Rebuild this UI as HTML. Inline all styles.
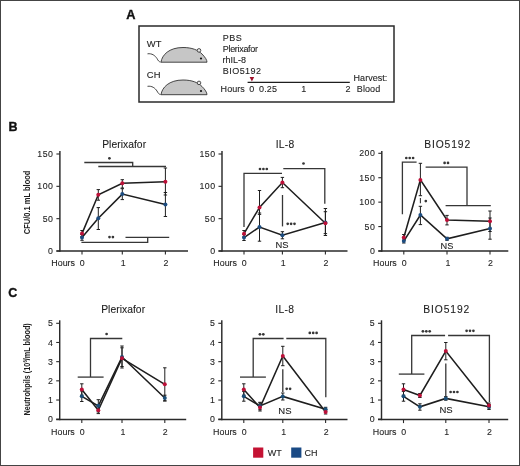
<!DOCTYPE html>
<html><head><meta charset="utf-8"><style>
html,body{margin:0;padding:0;background:#fff;}
body{width:520px;height:466px;overflow:hidden;font-family:"Liberation Sans", sans-serif;}
svg{display:block;will-change:transform;}
</style></head><body>
<svg width="520" height="466" viewBox="0 0 520 466" font-family='"Liberation Sans", sans-serif'>
<rect x="0" y="0" width="520" height="466" fill="#fff"/>
<rect x="0.5" y="0.5" width="519" height="465" fill="none" stroke="#444" stroke-width="1"/>
<text x="126.2" y="19.2" font-size="12.8" text-anchor="start" font-weight="bold" fill="#111" stroke="#111" stroke-width="0.35">A</text>
<text x="8.5" y="131.3" font-size="12.5" text-anchor="start" font-weight="bold" fill="#111" stroke="#111" stroke-width="0.35">B</text>
<text x="8.2" y="297.3" font-size="12.5" text-anchor="start" font-weight="bold" fill="#111" stroke="#111" stroke-width="0.35">C</text>
<rect x="139" y="26" width="255" height="76" fill="none" stroke="#2a2a2a" stroke-width="1.5"/>
<text x="146.7" y="46.9" font-size="9.4" text-anchor="start" font-weight="normal" fill="#1e1e1e"  letter-spacing="0.3" stroke="#1e1e1e" stroke-width="0.1">WT</text>
<text x="146.7" y="77.8" font-size="9.4" text-anchor="start" font-weight="normal" fill="#1e1e1e"  letter-spacing="0.3" stroke="#1e1e1e" stroke-width="0.1">CH</text>
<text x="222.8" y="40.5" font-size="9.0" text-anchor="start" font-weight="normal" fill="#1e1e1e"  letter-spacing="0.45" stroke="#1e1e1e" stroke-width="0.1">PBS</text>
<text x="222.8" y="51.6" font-size="9.0" text-anchor="start" font-weight="normal" fill="#1e1e1e"  letter-spacing="-0.32" stroke="#1e1e1e" stroke-width="0.1">Plerixafor</text>
<text x="222.6" y="62.6" font-size="9.0" text-anchor="start" font-weight="normal" fill="#1e1e1e"  stroke="#1e1e1e" stroke-width="0.1">rhIL-8</text>
<text x="222.8" y="74.0" font-size="9.0" text-anchor="start" font-weight="normal" fill="#1e1e1e"  letter-spacing="0.45" stroke="#1e1e1e" stroke-width="0.1">BIO5192</text>
<text x="220.6" y="91.9" font-size="9.0" text-anchor="start" font-weight="normal" fill="#1e1e1e"  letter-spacing="0.05" stroke="#1e1e1e" stroke-width="0.1">Hours</text>
<text x="249.2" y="91.9" font-size="9.0" text-anchor="start" font-weight="normal" fill="#1e1e1e"  stroke="#1e1e1e" stroke-width="0.1">0</text>
<text x="259.1" y="91.9" font-size="9.0" text-anchor="start" font-weight="normal" fill="#1e1e1e"  letter-spacing="0.1" stroke="#1e1e1e" stroke-width="0.1">0.25</text>
<text x="303.8" y="91.9" font-size="9.0" text-anchor="middle" font-weight="normal" fill="#1e1e1e"  stroke="#1e1e1e" stroke-width="0.1">1</text>
<text x="348.1" y="91.9" font-size="9.0" text-anchor="middle" font-weight="normal" fill="#1e1e1e"  stroke="#1e1e1e" stroke-width="0.1">2</text>
<text x="353.6" y="81.0" font-size="9.0" text-anchor="start" font-weight="normal" fill="#1e1e1e"  letter-spacing="0.02" stroke="#1e1e1e" stroke-width="0.1">Harvest:</text>
<text x="356.8" y="91.9" font-size="9.0" text-anchor="start" font-weight="normal" fill="#1e1e1e"  letter-spacing="0.08" stroke="#1e1e1e" stroke-width="0.1">Blood</text>
<line x1="247.6" y1="82.3" x2="349.8" y2="82.3" stroke="#1e1e1e" stroke-width="1.3"/>
<polygon points="249.6,77 254.2,77 251.9,81.4" fill="#a0102a"/>
<g transform="translate(0,0)">
<path d="M147.5,53.8 C152,53.2 155,55.5 157,58.5 C158,60.5 159,61.8 160.6,62.1" fill="none" stroke="#333" stroke-width="0.9"/>
<path d="M161,62.2 C162,55 169,47.5 183,47.5 C192,47.5 198,50 202,54 C205,57 207,60 207,62.2 Z" fill="#c6c6c6" stroke="#333" stroke-width="0.9"/>
<circle cx="199" cy="50.4" r="1.8" fill="#e8e8e8" stroke="#333" stroke-width="0.85"/>
<circle cx="201" cy="58.5" r="1.1" fill="#111"/>
</g>
<g transform="translate(0,32.5)">
<path d="M147.5,53.8 C152,53.2 155,55.5 157,58.5 C158,60.5 159,61.8 160.6,62.1" fill="none" stroke="#333" stroke-width="0.9"/>
<path d="M161,62.2 C162,55 169,47.5 183,47.5 C192,47.5 198,50 202,54 C205,57 207,60 207,62.2 Z" fill="#c6c6c6" stroke="#333" stroke-width="0.9"/>
<circle cx="199" cy="50.4" r="1.8" fill="#e8e8e8" stroke="#333" stroke-width="0.85"/>
<circle cx="201" cy="58.5" r="1.1" fill="#111"/>
</g>
<line x1="59.9" y1="151" x2="59.9" y2="251.7" stroke="#2a2a2a" stroke-width="1.45"/>
<line x1="56.4" y1="251" x2="188" y2="251" stroke="#2a2a2a" stroke-width="1.45"/>
<line x1="56.4" y1="251.0" x2="59.9" y2="251.0" stroke="#2a2a2a" stroke-width="1.1"/>
<text x="53.5" y="254.1" font-size="8.8" text-anchor="end" font-weight="normal" fill="#1e1e1e" letter-spacing="0.5" stroke="#1e1e1e" stroke-width="0.1">0</text>
<line x1="56.4" y1="218.665" x2="59.9" y2="218.665" stroke="#2a2a2a" stroke-width="1.1"/>
<text x="53.5" y="221.765" font-size="8.8" text-anchor="end" font-weight="normal" fill="#1e1e1e" letter-spacing="0.5" stroke="#1e1e1e" stroke-width="0.1">50</text>
<line x1="56.4" y1="186.32999999999998" x2="59.9" y2="186.32999999999998" stroke="#2a2a2a" stroke-width="1.1"/>
<text x="53.5" y="189.42999999999998" font-size="8.8" text-anchor="end" font-weight="normal" fill="#1e1e1e" letter-spacing="0.5" stroke="#1e1e1e" stroke-width="0.1">100</text>
<line x1="56.4" y1="153.995" x2="59.9" y2="153.995" stroke="#2a2a2a" stroke-width="1.1"/>
<text x="53.5" y="157.095" font-size="8.8" text-anchor="end" font-weight="normal" fill="#1e1e1e" letter-spacing="0.5" stroke="#1e1e1e" stroke-width="0.1">150</text>
<line x1="82" y1="251" x2="82" y2="254.6" stroke="#2a2a2a" stroke-width="1.1"/>
<text x="82.3" y="266" font-size="8.8" text-anchor="middle" font-weight="normal" fill="#1e1e1e"  stroke="#1e1e1e" stroke-width="0.1">0</text>
<line x1="122.3" y1="251" x2="122.3" y2="254.6" stroke="#2a2a2a" stroke-width="1.1"/>
<text x="123.2" y="266" font-size="8.8" text-anchor="middle" font-weight="normal" fill="#1e1e1e"  stroke="#1e1e1e" stroke-width="0.1">1</text>
<line x1="165.4" y1="251" x2="165.4" y2="254.6" stroke="#2a2a2a" stroke-width="1.1"/>
<text x="165.9" y="266" font-size="8.8" text-anchor="middle" font-weight="normal" fill="#1e1e1e"  stroke="#1e1e1e" stroke-width="0.1">2</text>
<text x="75.0" y="266" font-size="8.9" text-anchor="end" font-weight="normal" fill="#1e1e1e"  stroke="#1e1e1e" stroke-width="0.1">Hours</text>
<text x="124.125" y="147.5" font-size="10.3" text-anchor="middle" font-weight="normal" fill="#1e1e1e"  letter-spacing="0.05" stroke="#1e1e1e" stroke-width="0.1">Plerixafor</text>
<polyline points="82,233.6 98.3,194.7 122.3,183.3 165.4,181.7" fill="none" stroke="#1e1e1e" stroke-width="1.55" stroke-linejoin="miter"/>
<polyline points="82,237.4 98.3,218.3 122.3,194.1 165.4,204.6" fill="none" stroke="#1e1e1e" stroke-width="1.55" stroke-linejoin="miter"/>
<line x1="82" y1="230.5" x2="82" y2="236.7" stroke="#1e1e1e" stroke-width="1.0"/>
<line x1="80.3" y1="230.5" x2="83.7" y2="230.5" stroke="#1e1e1e" stroke-width="1.0"/>
<line x1="80.3" y1="236.7" x2="83.7" y2="236.7" stroke="#1e1e1e" stroke-width="1.0"/>
<line x1="98.3" y1="189.6" x2="98.3" y2="200.2" stroke="#1e1e1e" stroke-width="1.0"/>
<line x1="96.6" y1="189.6" x2="100.0" y2="189.6" stroke="#1e1e1e" stroke-width="1.0"/>
<line x1="96.6" y1="200.2" x2="100.0" y2="200.2" stroke="#1e1e1e" stroke-width="1.0"/>
<line x1="122.3" y1="179.7" x2="122.3" y2="188" stroke="#1e1e1e" stroke-width="1.0"/>
<line x1="120.6" y1="179.7" x2="124.0" y2="179.7" stroke="#1e1e1e" stroke-width="1.0"/>
<line x1="120.6" y1="188" x2="124.0" y2="188" stroke="#1e1e1e" stroke-width="1.0"/>
<line x1="165.4" y1="168" x2="165.4" y2="195" stroke="#1e1e1e" stroke-width="1.0"/>
<line x1="163.70000000000002" y1="168" x2="167.1" y2="168" stroke="#1e1e1e" stroke-width="1.0"/>
<line x1="163.70000000000002" y1="195" x2="167.1" y2="195" stroke="#1e1e1e" stroke-width="1.0"/>
<line x1="82" y1="234.5" x2="82" y2="240.3" stroke="#1e1e1e" stroke-width="1.0"/>
<line x1="80.3" y1="234.5" x2="83.7" y2="234.5" stroke="#1e1e1e" stroke-width="1.0"/>
<line x1="80.3" y1="240.3" x2="83.7" y2="240.3" stroke="#1e1e1e" stroke-width="1.0"/>
<line x1="98.3" y1="207.6" x2="98.3" y2="229.5" stroke="#1e1e1e" stroke-width="1.0"/>
<line x1="96.6" y1="207.6" x2="100.0" y2="207.6" stroke="#1e1e1e" stroke-width="1.0"/>
<line x1="96.6" y1="229.5" x2="100.0" y2="229.5" stroke="#1e1e1e" stroke-width="1.0"/>
<line x1="122.3" y1="188.7" x2="122.3" y2="199.6" stroke="#1e1e1e" stroke-width="1.0"/>
<line x1="120.6" y1="188.7" x2="124.0" y2="188.7" stroke="#1e1e1e" stroke-width="1.0"/>
<line x1="120.6" y1="199.6" x2="124.0" y2="199.6" stroke="#1e1e1e" stroke-width="1.0"/>
<line x1="165.4" y1="192.5" x2="165.4" y2="216.5" stroke="#1e1e1e" stroke-width="1.0"/>
<line x1="163.70000000000002" y1="192.5" x2="167.1" y2="192.5" stroke="#1e1e1e" stroke-width="1.0"/>
<line x1="163.70000000000002" y1="216.5" x2="167.1" y2="216.5" stroke="#1e1e1e" stroke-width="1.0"/>
<circle cx="82" cy="237.4" r="2.0" fill="#1c4c80"/>
<circle cx="98.3" cy="218.3" r="2.0" fill="#1c4c80"/>
<circle cx="122.3" cy="194.1" r="2.0" fill="#1c4c80"/>
<circle cx="165.4" cy="204.6" r="2.0" fill="#1c4c80"/>
<circle cx="82" cy="233.6" r="2.0" fill="#bc1038"/>
<circle cx="98.3" cy="194.7" r="2.0" fill="#bc1038"/>
<circle cx="122.3" cy="183.3" r="2.0" fill="#bc1038"/>
<circle cx="165.4" cy="181.7" r="2.0" fill="#bc1038"/>
<line x1="222" y1="151" x2="222" y2="251.7" stroke="#2a2a2a" stroke-width="1.45"/>
<line x1="218.5" y1="251" x2="347.5" y2="251" stroke="#2a2a2a" stroke-width="1.45"/>
<line x1="218.5" y1="251.0" x2="222" y2="251.0" stroke="#2a2a2a" stroke-width="1.1"/>
<text x="215.6" y="254.1" font-size="8.8" text-anchor="end" font-weight="normal" fill="#1e1e1e" letter-spacing="0.5" stroke="#1e1e1e" stroke-width="0.1">0</text>
<line x1="218.5" y1="218.665" x2="222" y2="218.665" stroke="#2a2a2a" stroke-width="1.1"/>
<text x="215.6" y="221.765" font-size="8.8" text-anchor="end" font-weight="normal" fill="#1e1e1e" letter-spacing="0.5" stroke="#1e1e1e" stroke-width="0.1">50</text>
<line x1="218.5" y1="186.32999999999998" x2="222" y2="186.32999999999998" stroke="#2a2a2a" stroke-width="1.1"/>
<text x="215.6" y="189.42999999999998" font-size="8.8" text-anchor="end" font-weight="normal" fill="#1e1e1e" letter-spacing="0.5" stroke="#1e1e1e" stroke-width="0.1">100</text>
<line x1="218.5" y1="153.995" x2="222" y2="153.995" stroke="#2a2a2a" stroke-width="1.1"/>
<text x="215.6" y="157.095" font-size="8.8" text-anchor="end" font-weight="normal" fill="#1e1e1e" letter-spacing="0.5" stroke="#1e1e1e" stroke-width="0.1">150</text>
<line x1="244" y1="251" x2="244" y2="254.6" stroke="#2a2a2a" stroke-width="1.1"/>
<text x="244.3" y="266" font-size="8.8" text-anchor="middle" font-weight="normal" fill="#1e1e1e"  stroke="#1e1e1e" stroke-width="0.1">0</text>
<line x1="282.4" y1="251" x2="282.4" y2="254.6" stroke="#2a2a2a" stroke-width="1.1"/>
<text x="283.29999999999995" y="266" font-size="8.8" text-anchor="middle" font-weight="normal" fill="#1e1e1e"  stroke="#1e1e1e" stroke-width="0.1">1</text>
<line x1="325.4" y1="251" x2="325.4" y2="254.6" stroke="#2a2a2a" stroke-width="1.1"/>
<text x="325.9" y="266" font-size="8.8" text-anchor="middle" font-weight="normal" fill="#1e1e1e"  stroke="#1e1e1e" stroke-width="0.1">2</text>
<text x="237.0" y="266" font-size="8.9" text-anchor="end" font-weight="normal" fill="#1e1e1e"  stroke="#1e1e1e" stroke-width="0.1">Hours</text>
<text x="285.15" y="147.5" font-size="10.3" text-anchor="middle" font-weight="normal" fill="#1e1e1e"  letter-spacing="0.3" stroke="#1e1e1e" stroke-width="0.1">IL-8</text>
<polyline points="244,233.7 259.5,207.4 282.4,182.5 325.4,223.3" fill="none" stroke="#1e1e1e" stroke-width="1.55" stroke-linejoin="miter"/>
<polyline points="244,237.6 259.5,227.0 282.4,235.2 325.4,222.6" fill="none" stroke="#1e1e1e" stroke-width="1.55" stroke-linejoin="miter"/>
<line x1="244" y1="230.5" x2="244" y2="237" stroke="#1e1e1e" stroke-width="1.0"/>
<line x1="242.3" y1="230.5" x2="245.7" y2="230.5" stroke="#1e1e1e" stroke-width="1.0"/>
<line x1="242.3" y1="237" x2="245.7" y2="237" stroke="#1e1e1e" stroke-width="1.0"/>
<line x1="259.5" y1="190.5" x2="259.5" y2="214.4" stroke="#1e1e1e" stroke-width="1.0"/>
<line x1="257.8" y1="190.5" x2="261.2" y2="190.5" stroke="#1e1e1e" stroke-width="1.0"/>
<line x1="257.8" y1="214.4" x2="261.2" y2="214.4" stroke="#1e1e1e" stroke-width="1.0"/>
<line x1="282.4" y1="177.4" x2="282.4" y2="187.7" stroke="#1e1e1e" stroke-width="1.0"/>
<line x1="280.7" y1="177.4" x2="284.09999999999997" y2="177.4" stroke="#1e1e1e" stroke-width="1.0"/>
<line x1="280.7" y1="187.7" x2="284.09999999999997" y2="187.7" stroke="#1e1e1e" stroke-width="1.0"/>
<line x1="325.4" y1="208.5" x2="325.4" y2="233.6" stroke="#1e1e1e" stroke-width="1.0"/>
<line x1="323.7" y1="208.5" x2="327.09999999999997" y2="208.5" stroke="#1e1e1e" stroke-width="1.0"/>
<line x1="323.7" y1="233.6" x2="327.09999999999997" y2="233.6" stroke="#1e1e1e" stroke-width="1.0"/>
<line x1="244" y1="234.5" x2="244" y2="240.5" stroke="#1e1e1e" stroke-width="1.0"/>
<line x1="242.3" y1="234.5" x2="245.7" y2="234.5" stroke="#1e1e1e" stroke-width="1.0"/>
<line x1="242.3" y1="240.5" x2="245.7" y2="240.5" stroke="#1e1e1e" stroke-width="1.0"/>
<line x1="259.5" y1="213.0" x2="259.5" y2="241.2" stroke="#1e1e1e" stroke-width="1.0"/>
<line x1="257.8" y1="213.0" x2="261.2" y2="213.0" stroke="#1e1e1e" stroke-width="1.0"/>
<line x1="257.8" y1="241.2" x2="261.2" y2="241.2" stroke="#1e1e1e" stroke-width="1.0"/>
<line x1="282.4" y1="231.7" x2="282.4" y2="238.8" stroke="#1e1e1e" stroke-width="1.0"/>
<line x1="280.7" y1="231.7" x2="284.09999999999997" y2="231.7" stroke="#1e1e1e" stroke-width="1.0"/>
<line x1="280.7" y1="238.8" x2="284.09999999999997" y2="238.8" stroke="#1e1e1e" stroke-width="1.0"/>
<line x1="325.4" y1="211.7" x2="325.4" y2="235.5" stroke="#1e1e1e" stroke-width="1.0"/>
<line x1="323.7" y1="211.7" x2="327.09999999999997" y2="211.7" stroke="#1e1e1e" stroke-width="1.0"/>
<line x1="323.7" y1="235.5" x2="327.09999999999997" y2="235.5" stroke="#1e1e1e" stroke-width="1.0"/>
<circle cx="244" cy="237.6" r="2.0" fill="#1c4c80"/>
<circle cx="259.5" cy="227.0" r="2.0" fill="#1c4c80"/>
<circle cx="282.4" cy="235.2" r="2.0" fill="#1c4c80"/>
<circle cx="325.4" cy="222.6" r="2.0" fill="#1c4c80"/>
<circle cx="244" cy="233.7" r="2.0" fill="#bc1038"/>
<circle cx="259.5" cy="207.4" r="2.0" fill="#bc1038"/>
<circle cx="282.4" cy="182.5" r="2.0" fill="#bc1038"/>
<circle cx="325.4" cy="223.3" r="2.0" fill="#bc1038"/>
<line x1="381.8" y1="151" x2="381.8" y2="251.7" stroke="#2a2a2a" stroke-width="1.45"/>
<line x1="378.3" y1="251" x2="508.3" y2="251" stroke="#2a2a2a" stroke-width="1.45"/>
<line x1="378.3" y1="251.0" x2="381.8" y2="251.0" stroke="#2a2a2a" stroke-width="1.1"/>
<text x="375.40000000000003" y="254.1" font-size="8.8" text-anchor="end" font-weight="normal" fill="#1e1e1e" letter-spacing="0.5" stroke="#1e1e1e" stroke-width="0.1">0</text>
<line x1="378.3" y1="226.575" x2="381.8" y2="226.575" stroke="#2a2a2a" stroke-width="1.1"/>
<text x="375.40000000000003" y="229.67499999999998" font-size="8.8" text-anchor="end" font-weight="normal" fill="#1e1e1e" letter-spacing="0.5" stroke="#1e1e1e" stroke-width="0.1">50</text>
<line x1="378.3" y1="202.15" x2="381.8" y2="202.15" stroke="#2a2a2a" stroke-width="1.1"/>
<text x="375.40000000000003" y="205.25" font-size="8.8" text-anchor="end" font-weight="normal" fill="#1e1e1e" letter-spacing="0.5" stroke="#1e1e1e" stroke-width="0.1">100</text>
<line x1="378.3" y1="177.72500000000002" x2="381.8" y2="177.72500000000002" stroke="#2a2a2a" stroke-width="1.1"/>
<text x="375.40000000000003" y="180.82500000000002" font-size="8.8" text-anchor="end" font-weight="normal" fill="#1e1e1e" letter-spacing="0.5" stroke="#1e1e1e" stroke-width="0.1">150</text>
<line x1="378.3" y1="153.3" x2="381.8" y2="153.3" stroke="#2a2a2a" stroke-width="1.1"/>
<text x="375.40000000000003" y="156.4" font-size="8.8" text-anchor="end" font-weight="normal" fill="#1e1e1e" letter-spacing="0.5" stroke="#1e1e1e" stroke-width="0.1">200</text>
<line x1="403.8" y1="251" x2="403.8" y2="254.6" stroke="#2a2a2a" stroke-width="1.1"/>
<text x="404.1" y="266" font-size="8.8" text-anchor="middle" font-weight="normal" fill="#1e1e1e"  stroke="#1e1e1e" stroke-width="0.1">0</text>
<line x1="447" y1="251" x2="447" y2="254.6" stroke="#2a2a2a" stroke-width="1.1"/>
<text x="447.9" y="266" font-size="8.8" text-anchor="middle" font-weight="normal" fill="#1e1e1e"  stroke="#1e1e1e" stroke-width="0.1">1</text>
<line x1="490" y1="251" x2="490" y2="254.6" stroke="#2a2a2a" stroke-width="1.1"/>
<text x="490.5" y="266" font-size="8.8" text-anchor="middle" font-weight="normal" fill="#1e1e1e"  stroke="#1e1e1e" stroke-width="0.1">2</text>
<text x="396.8" y="266" font-size="8.9" text-anchor="end" font-weight="normal" fill="#1e1e1e"  stroke="#1e1e1e" stroke-width="0.1">Hours</text>
<text x="447.65" y="147.5" font-size="10.3" text-anchor="middle" font-weight="normal" fill="#1e1e1e"  letter-spacing="0.9" stroke="#1e1e1e" stroke-width="0.1">BIO5192</text>
<polyline points="403.8,237.5 420.4,179.9 447,220 490,221.2" fill="none" stroke="#1e1e1e" stroke-width="1.55" stroke-linejoin="miter"/>
<polyline points="403.8,241.1 420.4,215 447,238.8 490,228.5" fill="none" stroke="#1e1e1e" stroke-width="1.55" stroke-linejoin="miter"/>
<line x1="403.8" y1="234.5" x2="403.8" y2="240.5" stroke="#1e1e1e" stroke-width="1.0"/>
<line x1="402.1" y1="234.5" x2="405.5" y2="234.5" stroke="#1e1e1e" stroke-width="1.0"/>
<line x1="402.1" y1="240.5" x2="405.5" y2="240.5" stroke="#1e1e1e" stroke-width="1.0"/>
<line x1="420.4" y1="163.3" x2="420.4" y2="195.7" stroke="#1e1e1e" stroke-width="1.0"/>
<line x1="418.7" y1="163.3" x2="422.09999999999997" y2="163.3" stroke="#1e1e1e" stroke-width="1.0"/>
<line x1="418.7" y1="195.7" x2="422.09999999999997" y2="195.7" stroke="#1e1e1e" stroke-width="1.0"/>
<line x1="447" y1="215.4" x2="447" y2="224.9" stroke="#1e1e1e" stroke-width="1.0"/>
<line x1="445.3" y1="215.4" x2="448.7" y2="215.4" stroke="#1e1e1e" stroke-width="1.0"/>
<line x1="445.3" y1="224.9" x2="448.7" y2="224.9" stroke="#1e1e1e" stroke-width="1.0"/>
<line x1="490" y1="211" x2="490" y2="231.5" stroke="#1e1e1e" stroke-width="1.0"/>
<line x1="488.3" y1="211" x2="491.7" y2="211" stroke="#1e1e1e" stroke-width="1.0"/>
<line x1="488.3" y1="231.5" x2="491.7" y2="231.5" stroke="#1e1e1e" stroke-width="1.0"/>
<line x1="403.8" y1="239" x2="403.8" y2="243" stroke="#1e1e1e" stroke-width="1.0"/>
<line x1="402.1" y1="239" x2="405.5" y2="239" stroke="#1e1e1e" stroke-width="1.0"/>
<line x1="402.1" y1="243" x2="405.5" y2="243" stroke="#1e1e1e" stroke-width="1.0"/>
<line x1="420.4" y1="206.3" x2="420.4" y2="224.6" stroke="#1e1e1e" stroke-width="1.0"/>
<line x1="418.7" y1="206.3" x2="422.09999999999997" y2="206.3" stroke="#1e1e1e" stroke-width="1.0"/>
<line x1="418.7" y1="224.6" x2="422.09999999999997" y2="224.6" stroke="#1e1e1e" stroke-width="1.0"/>
<line x1="447" y1="237.3" x2="447" y2="240.3" stroke="#1e1e1e" stroke-width="1.0"/>
<line x1="445.3" y1="237.3" x2="448.7" y2="237.3" stroke="#1e1e1e" stroke-width="1.0"/>
<line x1="445.3" y1="240.3" x2="448.7" y2="240.3" stroke="#1e1e1e" stroke-width="1.0"/>
<line x1="490" y1="218" x2="490" y2="239.2" stroke="#1e1e1e" stroke-width="1.0"/>
<line x1="488.3" y1="218" x2="491.7" y2="218" stroke="#1e1e1e" stroke-width="1.0"/>
<line x1="488.3" y1="239.2" x2="491.7" y2="239.2" stroke="#1e1e1e" stroke-width="1.0"/>
<circle cx="403.8" cy="241.1" r="2.0" fill="#1c4c80"/>
<circle cx="420.4" cy="215" r="2.0" fill="#1c4c80"/>
<circle cx="447" cy="238.8" r="2.0" fill="#1c4c80"/>
<circle cx="490" cy="228.5" r="2.0" fill="#1c4c80"/>
<circle cx="403.8" cy="237.5" r="2.0" fill="#bc1038"/>
<circle cx="420.4" cy="179.9" r="2.0" fill="#bc1038"/>
<circle cx="447" cy="220" r="2.0" fill="#bc1038"/>
<circle cx="490" cy="221.2" r="2.0" fill="#bc1038"/>
<polyline points="84.3,162.5 132.7,162.5 132.7,166.5" fill="none" stroke="#363636" stroke-width="1.3" stroke-linejoin="miter"/>
<line x1="98.3" y1="166.5" x2="166" y2="166.5" stroke="#363636" stroke-width="1.3"/>
<circle cx="109.40" cy="158.3" r="1.35" fill="#363636"/>
<polyline points="81.4,242.3 147.7,242.3 147.7,237.4" fill="none" stroke="#363636" stroke-width="1.3" stroke-linejoin="miter"/>
<line x1="125.5" y1="237.4" x2="169.2" y2="237.4" stroke="#363636" stroke-width="1.3"/>
<circle cx="109.50" cy="237.1" r="1.35" fill="#363636"/>
<circle cx="112.90" cy="237.1" r="1.35" fill="#363636"/>
<polyline points="244,227 244,173.3 282,173.3" fill="none" stroke="#363636" stroke-width="1.3" stroke-linejoin="miter"/>
<circle cx="260.00" cy="169" r="1.35" fill="#363636"/>
<circle cx="263.40" cy="169" r="1.35" fill="#363636"/>
<circle cx="266.80" cy="169" r="1.35" fill="#363636"/>
<polyline points="283.3,168.6 324.8,168.6 324.8,203.8" fill="none" stroke="#363636" stroke-width="1.3" stroke-linejoin="miter"/>
<circle cx="303.50" cy="163.5" r="1.35" fill="#363636"/>
<line x1="282.5" y1="195" x2="282.5" y2="226.4" stroke="#363636" stroke-width="1.3"/>
<circle cx="287.70" cy="223.8" r="1.35" fill="#363636"/>
<circle cx="291.10" cy="223.8" r="1.35" fill="#363636"/>
<circle cx="294.50" cy="223.8" r="1.35" fill="#363636"/>
<text x="282" y="247.7" font-size="9.4" text-anchor="middle" font-weight="normal" fill="#1e1e1e"  stroke="#1e1e1e" stroke-width="0.1">NS</text>
<polyline points="402.4,214.3 402.4,162.2 416.6,162.2" fill="none" stroke="#363636" stroke-width="1.3" stroke-linejoin="miter"/>
<circle cx="406.30" cy="158" r="1.35" fill="#363636"/>
<circle cx="409.70" cy="158" r="1.35" fill="#363636"/>
<circle cx="413.10" cy="158" r="1.35" fill="#363636"/>
<polyline points="425.6,167.1 467,167.1 467,205.6" fill="none" stroke="#363636" stroke-width="1.3" stroke-linejoin="miter"/>
<line x1="445.6" y1="205.6" x2="490.8" y2="205.6" stroke="#363636" stroke-width="1.3"/>
<circle cx="444.60" cy="162.9" r="1.35" fill="#363636"/>
<circle cx="448.00" cy="162.9" r="1.35" fill="#363636"/>
<circle cx="425.80" cy="201.1" r="1.35" fill="#363636"/>
<line x1="420.4" y1="198" x2="420.4" y2="203.3" stroke="#363636" stroke-width="1.1"/>
<text x="447" y="248.9" font-size="9.2" text-anchor="middle" font-weight="normal" fill="#1e1e1e"  stroke="#1e1e1e" stroke-width="0.1">NS</text>
<line x1="59.7" y1="320.3" x2="59.7" y2="420.2" stroke="#2a2a2a" stroke-width="1.45"/>
<line x1="56.2" y1="419.5" x2="186.2" y2="419.5" stroke="#2a2a2a" stroke-width="1.45"/>
<line x1="56.2" y1="419.2" x2="59.7" y2="419.2" stroke="#2a2a2a" stroke-width="1.1"/>
<text x="53.300000000000004" y="422.3" font-size="8.8" text-anchor="end" font-weight="normal" fill="#1e1e1e" letter-spacing="0.5" stroke="#1e1e1e" stroke-width="0.1">0</text>
<line x1="56.2" y1="400.02" x2="59.7" y2="400.02" stroke="#2a2a2a" stroke-width="1.1"/>
<text x="53.300000000000004" y="403.12" font-size="8.8" text-anchor="end" font-weight="normal" fill="#1e1e1e" letter-spacing="0.5" stroke="#1e1e1e" stroke-width="0.1">1</text>
<line x1="56.2" y1="380.84" x2="59.7" y2="380.84" stroke="#2a2a2a" stroke-width="1.1"/>
<text x="53.300000000000004" y="383.94" font-size="8.8" text-anchor="end" font-weight="normal" fill="#1e1e1e" letter-spacing="0.5" stroke="#1e1e1e" stroke-width="0.1">2</text>
<line x1="56.2" y1="361.65999999999997" x2="59.7" y2="361.65999999999997" stroke="#2a2a2a" stroke-width="1.1"/>
<text x="53.300000000000004" y="364.76" font-size="8.8" text-anchor="end" font-weight="normal" fill="#1e1e1e" letter-spacing="0.5" stroke="#1e1e1e" stroke-width="0.1">3</text>
<line x1="56.2" y1="342.48" x2="59.7" y2="342.48" stroke="#2a2a2a" stroke-width="1.1"/>
<text x="53.300000000000004" y="345.58000000000004" font-size="8.8" text-anchor="end" font-weight="normal" fill="#1e1e1e" letter-spacing="0.5" stroke="#1e1e1e" stroke-width="0.1">4</text>
<line x1="56.2" y1="323.29999999999995" x2="59.7" y2="323.29999999999995" stroke="#2a2a2a" stroke-width="1.1"/>
<text x="53.300000000000004" y="326.4" font-size="8.8" text-anchor="end" font-weight="normal" fill="#1e1e1e" letter-spacing="0.5" stroke="#1e1e1e" stroke-width="0.1">5</text>
<line x1="81.8" y1="419.5" x2="81.8" y2="423.1" stroke="#2a2a2a" stroke-width="1.1"/>
<text x="82.1" y="435" font-size="8.8" text-anchor="middle" font-weight="normal" fill="#1e1e1e"  stroke="#1e1e1e" stroke-width="0.1">0</text>
<line x1="122" y1="419.5" x2="122" y2="423.1" stroke="#2a2a2a" stroke-width="1.1"/>
<text x="122.9" y="435" font-size="8.8" text-anchor="middle" font-weight="normal" fill="#1e1e1e"  stroke="#1e1e1e" stroke-width="0.1">1</text>
<line x1="164.8" y1="419.5" x2="164.8" y2="423.1" stroke="#2a2a2a" stroke-width="1.1"/>
<text x="165.3" y="435" font-size="8.8" text-anchor="middle" font-weight="normal" fill="#1e1e1e"  stroke="#1e1e1e" stroke-width="0.1">2</text>
<text x="74.8" y="435" font-size="8.9" text-anchor="end" font-weight="normal" fill="#1e1e1e"  stroke="#1e1e1e" stroke-width="0.1">Hours</text>
<text x="123.125" y="313.4" font-size="10.3" text-anchor="middle" font-weight="normal" fill="#1e1e1e"  letter-spacing="0.05" stroke="#1e1e1e" stroke-width="0.1">Plerixafor</text>
<polyline points="81.8,389.5 98.3,410.3 122,358.3 164.8,384.3" fill="none" stroke="#1e1e1e" stroke-width="1.55" stroke-linejoin="miter"/>
<polyline points="81.8,396.3 98.3,405.8 122,357 164.8,398" fill="none" stroke="#1e1e1e" stroke-width="1.55" stroke-linejoin="miter"/>
<line x1="81.8" y1="383.8" x2="81.8" y2="395.2" stroke="#1e1e1e" stroke-width="1.0"/>
<line x1="80.1" y1="383.8" x2="83.5" y2="383.8" stroke="#1e1e1e" stroke-width="1.0"/>
<line x1="80.1" y1="395.2" x2="83.5" y2="395.2" stroke="#1e1e1e" stroke-width="1.0"/>
<line x1="98.3" y1="406.5" x2="98.3" y2="413.6" stroke="#1e1e1e" stroke-width="1.0"/>
<line x1="96.6" y1="406.5" x2="100.0" y2="406.5" stroke="#1e1e1e" stroke-width="1.0"/>
<line x1="96.6" y1="413.6" x2="100.0" y2="413.6" stroke="#1e1e1e" stroke-width="1.0"/>
<line x1="122" y1="346" x2="122" y2="368" stroke="#1e1e1e" stroke-width="1.0"/>
<line x1="120.3" y1="346" x2="123.7" y2="346" stroke="#1e1e1e" stroke-width="1.0"/>
<line x1="120.3" y1="368" x2="123.7" y2="368" stroke="#1e1e1e" stroke-width="1.0"/>
<line x1="164.8" y1="367.8" x2="164.8" y2="400.8" stroke="#1e1e1e" stroke-width="1.0"/>
<line x1="163.10000000000002" y1="367.8" x2="166.5" y2="367.8" stroke="#1e1e1e" stroke-width="1.0"/>
<line x1="163.10000000000002" y1="400.8" x2="166.5" y2="400.8" stroke="#1e1e1e" stroke-width="1.0"/>
<line x1="81.8" y1="391" x2="81.8" y2="401.5" stroke="#1e1e1e" stroke-width="1.0"/>
<line x1="80.1" y1="391" x2="83.5" y2="391" stroke="#1e1e1e" stroke-width="1.0"/>
<line x1="80.1" y1="401.5" x2="83.5" y2="401.5" stroke="#1e1e1e" stroke-width="1.0"/>
<line x1="98.3" y1="399.7" x2="98.3" y2="411.9" stroke="#1e1e1e" stroke-width="1.0"/>
<line x1="96.6" y1="399.7" x2="100.0" y2="399.7" stroke="#1e1e1e" stroke-width="1.0"/>
<line x1="96.6" y1="411.9" x2="100.0" y2="411.9" stroke="#1e1e1e" stroke-width="1.0"/>
<line x1="122" y1="347.8" x2="122" y2="366.5" stroke="#1e1e1e" stroke-width="1.0"/>
<line x1="120.3" y1="347.8" x2="123.7" y2="347.8" stroke="#1e1e1e" stroke-width="1.0"/>
<line x1="120.3" y1="366.5" x2="123.7" y2="366.5" stroke="#1e1e1e" stroke-width="1.0"/>
<line x1="164.8" y1="395.2" x2="164.8" y2="401" stroke="#1e1e1e" stroke-width="1.0"/>
<line x1="163.10000000000002" y1="395.2" x2="166.5" y2="395.2" stroke="#1e1e1e" stroke-width="1.0"/>
<line x1="163.10000000000002" y1="401" x2="166.5" y2="401" stroke="#1e1e1e" stroke-width="1.0"/>
<circle cx="81.8" cy="396.3" r="2.0" fill="#1c4f78"/>
<circle cx="98.3" cy="405.8" r="2.0" fill="#1c4f78"/>
<circle cx="122" cy="357" r="2.0" fill="#1c4f78"/>
<circle cx="164.8" cy="398" r="2.0" fill="#1c4f78"/>
<circle cx="81.8" cy="389.5" r="2.0" fill="#bc1038"/>
<circle cx="98.3" cy="410.3" r="2.0" fill="#bc1038"/>
<circle cx="122" cy="358.3" r="2.0" fill="#bc1038"/>
<circle cx="164.8" cy="384.3" r="2.0" fill="#bc1038"/>
<line x1="221.8" y1="320.3" x2="221.8" y2="420.2" stroke="#2a2a2a" stroke-width="1.45"/>
<line x1="218.3" y1="419.5" x2="347.5" y2="419.5" stroke="#2a2a2a" stroke-width="1.45"/>
<line x1="218.3" y1="419.2" x2="221.8" y2="419.2" stroke="#2a2a2a" stroke-width="1.1"/>
<text x="215.4" y="422.3" font-size="8.8" text-anchor="end" font-weight="normal" fill="#1e1e1e" letter-spacing="0.5" stroke="#1e1e1e" stroke-width="0.1">0</text>
<line x1="218.3" y1="400.02" x2="221.8" y2="400.02" stroke="#2a2a2a" stroke-width="1.1"/>
<text x="215.4" y="403.12" font-size="8.8" text-anchor="end" font-weight="normal" fill="#1e1e1e" letter-spacing="0.5" stroke="#1e1e1e" stroke-width="0.1">1</text>
<line x1="218.3" y1="380.84" x2="221.8" y2="380.84" stroke="#2a2a2a" stroke-width="1.1"/>
<text x="215.4" y="383.94" font-size="8.8" text-anchor="end" font-weight="normal" fill="#1e1e1e" letter-spacing="0.5" stroke="#1e1e1e" stroke-width="0.1">2</text>
<line x1="218.3" y1="361.65999999999997" x2="221.8" y2="361.65999999999997" stroke="#2a2a2a" stroke-width="1.1"/>
<text x="215.4" y="364.76" font-size="8.8" text-anchor="end" font-weight="normal" fill="#1e1e1e" letter-spacing="0.5" stroke="#1e1e1e" stroke-width="0.1">3</text>
<line x1="218.3" y1="342.48" x2="221.8" y2="342.48" stroke="#2a2a2a" stroke-width="1.1"/>
<text x="215.4" y="345.58000000000004" font-size="8.8" text-anchor="end" font-weight="normal" fill="#1e1e1e" letter-spacing="0.5" stroke="#1e1e1e" stroke-width="0.1">4</text>
<line x1="218.3" y1="323.29999999999995" x2="221.8" y2="323.29999999999995" stroke="#2a2a2a" stroke-width="1.1"/>
<text x="215.4" y="326.4" font-size="8.8" text-anchor="end" font-weight="normal" fill="#1e1e1e" letter-spacing="0.5" stroke="#1e1e1e" stroke-width="0.1">5</text>
<line x1="243.8" y1="419.5" x2="243.8" y2="423.1" stroke="#2a2a2a" stroke-width="1.1"/>
<text x="244.10000000000002" y="435" font-size="8.8" text-anchor="middle" font-weight="normal" fill="#1e1e1e"  stroke="#1e1e1e" stroke-width="0.1">0</text>
<line x1="282.8" y1="419.5" x2="282.8" y2="423.1" stroke="#2a2a2a" stroke-width="1.1"/>
<text x="283.7" y="435" font-size="8.8" text-anchor="middle" font-weight="normal" fill="#1e1e1e"  stroke="#1e1e1e" stroke-width="0.1">1</text>
<line x1="325.6" y1="419.5" x2="325.6" y2="423.1" stroke="#2a2a2a" stroke-width="1.1"/>
<text x="326.1" y="435" font-size="8.8" text-anchor="middle" font-weight="normal" fill="#1e1e1e"  stroke="#1e1e1e" stroke-width="0.1">2</text>
<text x="236.8" y="435" font-size="8.9" text-anchor="end" font-weight="normal" fill="#1e1e1e"  stroke="#1e1e1e" stroke-width="0.1">Hours</text>
<text x="284.84999999999997" y="313.4" font-size="10.3" text-anchor="middle" font-weight="normal" fill="#1e1e1e"  letter-spacing="0.3" stroke="#1e1e1e" stroke-width="0.1">IL-8</text>
<polyline points="243.8,389.5 260,407.6 282.8,356 325.6,412" fill="none" stroke="#1e1e1e" stroke-width="1.55" stroke-linejoin="miter"/>
<polyline points="243.8,396.3 260,406 282.8,396.4 325.6,409.3" fill="none" stroke="#1e1e1e" stroke-width="1.55" stroke-linejoin="miter"/>
<line x1="243.8" y1="383.8" x2="243.8" y2="395.2" stroke="#1e1e1e" stroke-width="1.0"/>
<line x1="242.10000000000002" y1="383.8" x2="245.5" y2="383.8" stroke="#1e1e1e" stroke-width="1.0"/>
<line x1="242.10000000000002" y1="395.2" x2="245.5" y2="395.2" stroke="#1e1e1e" stroke-width="1.0"/>
<line x1="260" y1="403" x2="260" y2="411" stroke="#1e1e1e" stroke-width="1.0"/>
<line x1="258.3" y1="403" x2="261.7" y2="403" stroke="#1e1e1e" stroke-width="1.0"/>
<line x1="258.3" y1="411" x2="261.7" y2="411" stroke="#1e1e1e" stroke-width="1.0"/>
<line x1="282.8" y1="346.3" x2="282.8" y2="365.7" stroke="#1e1e1e" stroke-width="1.0"/>
<line x1="281.1" y1="346.3" x2="284.5" y2="346.3" stroke="#1e1e1e" stroke-width="1.0"/>
<line x1="281.1" y1="365.7" x2="284.5" y2="365.7" stroke="#1e1e1e" stroke-width="1.0"/>
<line x1="325.6" y1="410" x2="325.6" y2="414" stroke="#1e1e1e" stroke-width="1.0"/>
<line x1="323.90000000000003" y1="410" x2="327.3" y2="410" stroke="#1e1e1e" stroke-width="1.0"/>
<line x1="323.90000000000003" y1="414" x2="327.3" y2="414" stroke="#1e1e1e" stroke-width="1.0"/>
<line x1="243.8" y1="391.4" x2="243.8" y2="401.2" stroke="#1e1e1e" stroke-width="1.0"/>
<line x1="242.10000000000002" y1="391.4" x2="245.5" y2="391.4" stroke="#1e1e1e" stroke-width="1.0"/>
<line x1="242.10000000000002" y1="401.2" x2="245.5" y2="401.2" stroke="#1e1e1e" stroke-width="1.0"/>
<line x1="260" y1="402.3" x2="260" y2="409.7" stroke="#1e1e1e" stroke-width="1.0"/>
<line x1="258.3" y1="402.3" x2="261.7" y2="402.3" stroke="#1e1e1e" stroke-width="1.0"/>
<line x1="258.3" y1="409.7" x2="261.7" y2="409.7" stroke="#1e1e1e" stroke-width="1.0"/>
<line x1="282.8" y1="393.0" x2="282.8" y2="400.0" stroke="#1e1e1e" stroke-width="1.0"/>
<line x1="281.1" y1="393.0" x2="284.5" y2="393.0" stroke="#1e1e1e" stroke-width="1.0"/>
<line x1="281.1" y1="400.0" x2="284.5" y2="400.0" stroke="#1e1e1e" stroke-width="1.0"/>
<line x1="325.6" y1="407.3" x2="325.6" y2="411.3" stroke="#1e1e1e" stroke-width="1.0"/>
<line x1="323.90000000000003" y1="407.3" x2="327.3" y2="407.3" stroke="#1e1e1e" stroke-width="1.0"/>
<line x1="323.90000000000003" y1="411.3" x2="327.3" y2="411.3" stroke="#1e1e1e" stroke-width="1.0"/>
<circle cx="243.8" cy="396.3" r="2.0" fill="#1c4f78"/>
<circle cx="260" cy="406" r="2.0" fill="#1c4f78"/>
<circle cx="282.8" cy="396.4" r="2.0" fill="#1c4f78"/>
<circle cx="325.6" cy="409.3" r="2.0" fill="#1c4f78"/>
<circle cx="243.8" cy="389.5" r="2.0" fill="#bc1038"/>
<circle cx="260" cy="407.6" r="2.0" fill="#bc1038"/>
<circle cx="282.8" cy="356" r="2.0" fill="#bc1038"/>
<circle cx="325.6" cy="412" r="2.0" fill="#bc1038"/>
<line x1="381.5" y1="320.3" x2="381.5" y2="420.2" stroke="#2a2a2a" stroke-width="1.45"/>
<line x1="378.0" y1="419.5" x2="508.2" y2="419.5" stroke="#2a2a2a" stroke-width="1.45"/>
<line x1="378.0" y1="419.2" x2="381.5" y2="419.2" stroke="#2a2a2a" stroke-width="1.1"/>
<text x="375.1" y="422.3" font-size="8.8" text-anchor="end" font-weight="normal" fill="#1e1e1e" letter-spacing="0.5" stroke="#1e1e1e" stroke-width="0.1">0</text>
<line x1="378.0" y1="400.02" x2="381.5" y2="400.02" stroke="#2a2a2a" stroke-width="1.1"/>
<text x="375.1" y="403.12" font-size="8.8" text-anchor="end" font-weight="normal" fill="#1e1e1e" letter-spacing="0.5" stroke="#1e1e1e" stroke-width="0.1">1</text>
<line x1="378.0" y1="380.84" x2="381.5" y2="380.84" stroke="#2a2a2a" stroke-width="1.1"/>
<text x="375.1" y="383.94" font-size="8.8" text-anchor="end" font-weight="normal" fill="#1e1e1e" letter-spacing="0.5" stroke="#1e1e1e" stroke-width="0.1">2</text>
<line x1="378.0" y1="361.65999999999997" x2="381.5" y2="361.65999999999997" stroke="#2a2a2a" stroke-width="1.1"/>
<text x="375.1" y="364.76" font-size="8.8" text-anchor="end" font-weight="normal" fill="#1e1e1e" letter-spacing="0.5" stroke="#1e1e1e" stroke-width="0.1">3</text>
<line x1="378.0" y1="342.48" x2="381.5" y2="342.48" stroke="#2a2a2a" stroke-width="1.1"/>
<text x="375.1" y="345.58000000000004" font-size="8.8" text-anchor="end" font-weight="normal" fill="#1e1e1e" letter-spacing="0.5" stroke="#1e1e1e" stroke-width="0.1">4</text>
<line x1="378.0" y1="323.29999999999995" x2="381.5" y2="323.29999999999995" stroke="#2a2a2a" stroke-width="1.1"/>
<text x="375.1" y="326.4" font-size="8.8" text-anchor="end" font-weight="normal" fill="#1e1e1e" letter-spacing="0.5" stroke="#1e1e1e" stroke-width="0.1">5</text>
<line x1="403.5" y1="419.5" x2="403.5" y2="423.1" stroke="#2a2a2a" stroke-width="1.1"/>
<text x="403.8" y="435" font-size="8.8" text-anchor="middle" font-weight="normal" fill="#1e1e1e"  stroke="#1e1e1e" stroke-width="0.1">0</text>
<line x1="445.8" y1="419.5" x2="445.8" y2="423.1" stroke="#2a2a2a" stroke-width="1.1"/>
<text x="446.7" y="435" font-size="8.8" text-anchor="middle" font-weight="normal" fill="#1e1e1e"  stroke="#1e1e1e" stroke-width="0.1">1</text>
<line x1="489" y1="419.5" x2="489" y2="423.1" stroke="#2a2a2a" stroke-width="1.1"/>
<text x="489.5" y="435" font-size="8.8" text-anchor="middle" font-weight="normal" fill="#1e1e1e"  stroke="#1e1e1e" stroke-width="0.1">2</text>
<text x="396.5" y="435" font-size="8.9" text-anchor="end" font-weight="normal" fill="#1e1e1e"  stroke="#1e1e1e" stroke-width="0.1">Hours</text>
<text x="446.75" y="313.4" font-size="10.3" text-anchor="middle" font-weight="normal" fill="#1e1e1e"  letter-spacing="0.9" stroke="#1e1e1e" stroke-width="0.1">BIO5192</text>
<polyline points="403.5,389.5 419.9,395.5 445.8,351.1 489,405.5" fill="none" stroke="#1e1e1e" stroke-width="1.55" stroke-linejoin="miter"/>
<polyline points="403.5,396.3 419.9,406.8 445.8,398.4 489,406.8" fill="none" stroke="#1e1e1e" stroke-width="1.55" stroke-linejoin="miter"/>
<line x1="403.5" y1="383.8" x2="403.5" y2="395.2" stroke="#1e1e1e" stroke-width="1.0"/>
<line x1="401.8" y1="383.8" x2="405.2" y2="383.8" stroke="#1e1e1e" stroke-width="1.0"/>
<line x1="401.8" y1="395.2" x2="405.2" y2="395.2" stroke="#1e1e1e" stroke-width="1.0"/>
<line x1="419.9" y1="393.5" x2="419.9" y2="397.5" stroke="#1e1e1e" stroke-width="1.0"/>
<line x1="418.2" y1="393.5" x2="421.59999999999997" y2="393.5" stroke="#1e1e1e" stroke-width="1.0"/>
<line x1="418.2" y1="397.5" x2="421.59999999999997" y2="397.5" stroke="#1e1e1e" stroke-width="1.0"/>
<line x1="445.8" y1="342.5" x2="445.8" y2="359.8" stroke="#1e1e1e" stroke-width="1.0"/>
<line x1="444.1" y1="342.5" x2="447.5" y2="342.5" stroke="#1e1e1e" stroke-width="1.0"/>
<line x1="444.1" y1="359.8" x2="447.5" y2="359.8" stroke="#1e1e1e" stroke-width="1.0"/>
<line x1="489" y1="403" x2="489" y2="408" stroke="#1e1e1e" stroke-width="1.0"/>
<line x1="487.3" y1="403" x2="490.7" y2="403" stroke="#1e1e1e" stroke-width="1.0"/>
<line x1="487.3" y1="408" x2="490.7" y2="408" stroke="#1e1e1e" stroke-width="1.0"/>
<line x1="403.5" y1="391.4" x2="403.5" y2="401.2" stroke="#1e1e1e" stroke-width="1.0"/>
<line x1="401.8" y1="391.4" x2="405.2" y2="391.4" stroke="#1e1e1e" stroke-width="1.0"/>
<line x1="401.8" y1="401.2" x2="405.2" y2="401.2" stroke="#1e1e1e" stroke-width="1.0"/>
<line x1="419.9" y1="403.8" x2="419.9" y2="410.2" stroke="#1e1e1e" stroke-width="1.0"/>
<line x1="418.2" y1="403.8" x2="421.59999999999997" y2="403.8" stroke="#1e1e1e" stroke-width="1.0"/>
<line x1="418.2" y1="410.2" x2="421.59999999999997" y2="410.2" stroke="#1e1e1e" stroke-width="1.0"/>
<line x1="445.8" y1="396.6" x2="445.8" y2="400.2" stroke="#1e1e1e" stroke-width="1.0"/>
<line x1="444.1" y1="396.6" x2="447.5" y2="396.6" stroke="#1e1e1e" stroke-width="1.0"/>
<line x1="444.1" y1="400.2" x2="447.5" y2="400.2" stroke="#1e1e1e" stroke-width="1.0"/>
<line x1="489" y1="404.5" x2="489" y2="409.5" stroke="#1e1e1e" stroke-width="1.0"/>
<line x1="487.3" y1="404.5" x2="490.7" y2="404.5" stroke="#1e1e1e" stroke-width="1.0"/>
<line x1="487.3" y1="409.5" x2="490.7" y2="409.5" stroke="#1e1e1e" stroke-width="1.0"/>
<circle cx="403.5" cy="396.3" r="2.0" fill="#1c4f78"/>
<circle cx="419.9" cy="406.8" r="2.0" fill="#1c4f78"/>
<circle cx="445.8" cy="398.4" r="2.0" fill="#1c4f78"/>
<circle cx="489" cy="406.8" r="2.0" fill="#1c4f78"/>
<circle cx="403.5" cy="389.5" r="2.0" fill="#bc1038"/>
<circle cx="419.9" cy="395.5" r="2.0" fill="#bc1038"/>
<circle cx="445.8" cy="351.1" r="2.0" fill="#bc1038"/>
<circle cx="489" cy="405.5" r="2.0" fill="#bc1038"/>
<line x1="77.7" y1="377.1" x2="103.6" y2="377.1" stroke="#363636" stroke-width="1.3"/>
<polyline points="90.5,377.1 90.5,338.5 122.3,338.5" fill="none" stroke="#363636" stroke-width="1.3" stroke-linejoin="miter"/>
<circle cx="106.60" cy="334" r="1.35" fill="#363636"/>
<line x1="240" y1="377.1" x2="265.9" y2="377.1" stroke="#363636" stroke-width="1.3"/>
<polyline points="253.2,377.1 253.2,338.5 283.6,338.5" fill="none" stroke="#363636" stroke-width="1.3" stroke-linejoin="miter"/>
<circle cx="259.90" cy="334.3" r="1.35" fill="#363636"/>
<circle cx="263.30" cy="334.3" r="1.35" fill="#363636"/>
<polyline points="286.3,338.5 325.8,338.5 325.8,397.3" fill="none" stroke="#363636" stroke-width="1.3" stroke-linejoin="miter"/>
<circle cx="309.80" cy="332.9" r="1.35" fill="#363636"/>
<circle cx="313.20" cy="332.9" r="1.35" fill="#363636"/>
<circle cx="316.60" cy="332.9" r="1.35" fill="#363636"/>
<line x1="282.8" y1="369.3" x2="282.8" y2="392" stroke="#363636" stroke-width="1.3"/>
<circle cx="286.70" cy="388.8" r="1.35" fill="#363636"/>
<circle cx="290.10" cy="388.8" r="1.35" fill="#363636"/>
<text x="284.9" y="413.5" font-size="9.5" text-anchor="middle" font-weight="normal" fill="#1e1e1e"  stroke="#1e1e1e" stroke-width="0.1">NS</text>
<line x1="398.8" y1="374.1" x2="424.4" y2="374.1" stroke="#363636" stroke-width="1.3"/>
<polyline points="411.7,374.1 411.7,335.5 445.1,335.5" fill="none" stroke="#363636" stroke-width="1.3" stroke-linejoin="miter"/>
<circle cx="422.90" cy="331.3" r="1.35" fill="#363636"/>
<circle cx="426.30" cy="331.3" r="1.35" fill="#363636"/>
<circle cx="429.70" cy="331.3" r="1.35" fill="#363636"/>
<polyline points="448.1,335.5 489.4,335.5 489.4,401.9" fill="none" stroke="#363636" stroke-width="1.3" stroke-linejoin="miter"/>
<circle cx="466.60" cy="330.8" r="1.35" fill="#363636"/>
<circle cx="470.00" cy="330.8" r="1.35" fill="#363636"/>
<circle cx="473.40" cy="330.8" r="1.35" fill="#363636"/>
<line x1="445.8" y1="363.6" x2="445.8" y2="396.4" stroke="#363636" stroke-width="1.3"/>
<circle cx="450.60" cy="392" r="1.35" fill="#363636"/>
<circle cx="454.00" cy="392" r="1.35" fill="#363636"/>
<circle cx="457.40" cy="392" r="1.35" fill="#363636"/>
<text x="446" y="412.5" font-size="9.5" text-anchor="middle" font-weight="normal" fill="#1e1e1e"  stroke="#1e1e1e" stroke-width="0.1">NS</text>
<text transform="translate(29.7,202.4) rotate(-90) scale(0.79,1)" font-size="9.5" font-weight="bold" text-anchor="middle" fill="#1e1e1e">CFU/0.1 mL blood</text>
<text transform="translate(30.3,369.4) rotate(-90) scale(0.767,1)" font-size="9.5" font-weight="bold" text-anchor="middle" fill="#1e1e1e">Neutrohpils (10<tspan font-size="5.5" dy="-3.2">6</tspan><tspan dy="3.2">/mL blood)</tspan></text>
<rect x="253.1" y="447.5" width="10.2" height="10.2" fill="#c41233"/>
<text x="267.7" y="455.8" font-size="9" text-anchor="start" font-weight="normal" fill="#1e1e1e"  stroke="#1e1e1e" stroke-width="0.1">WT</text>
<rect x="291.2" y="447.5" width="10.2" height="10.2" fill="#1a4a85"/>
<text x="304.6" y="455.8" font-size="9" text-anchor="start" font-weight="normal" fill="#1e1e1e"  stroke="#1e1e1e" stroke-width="0.1">CH</text>
</svg>
</body></html>
